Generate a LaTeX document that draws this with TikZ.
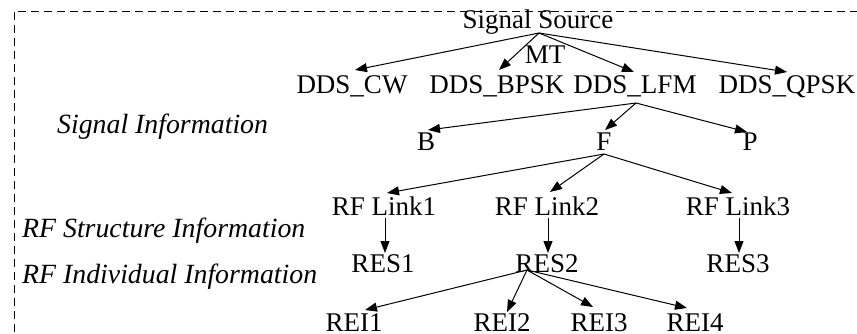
\documentclass[tikz,border=0pt]{standalone}
\usepackage{fontspec}
\setmainfont{Liberation Serif}
\usetikzlibrary{arrows.meta}

\begin{document}
\begin{tikzpicture}[x=1pt,y=-1pt,
    every node/.style={inner sep=0pt, font=\fontsize{27}{32}\selectfont},
    item/.style={anchor=base},
    level/.style={anchor=base west, font=\fontsize{27.8}{32}\selectfont\itshape},
    link/.style={line width=1pt, -{Triangle[length=12pt,width=9pt]}},
    frame/.style={line width=1pt, dash pattern=on 8pt off 5pt}]

  \useasboundingbox (0,0) rectangle (857,333);
  \clip (0,0) rectangle (857,333);

  % outer dashed frame
  \coordinate (fbl) at (14,345);
  \coordinate (ftl) at (14,11);
  \coordinate (ftr) at (875,11);
  \draw[frame] (fbl) -- (ftl) -- (ftr);

  % level captions
  \node[level] (sigi) at (57,133) {Signal Information};
  \node[level] (rfs)  at (22,237) {RF Structure Information};
  \node[level] (rfi)  at (22,283) {RF Individual Information};

  % tree nodes
  \node[item] (src)  at (538,28)  {Signal Source};
  \node[item] (mt)   at (545,63)  {MT};
  \node[item] (cw)   at (352,93)  {DDS\_CW};
  \node[item] (bpsk) at (497,93)  {DDS\_BPSK};
  \node[item] (lfm)  at (635,93)  {DDS\_LFM};
  \node[item] (qpsk) at (787,93)  {DDS\_QPSK};

  \node[item] (pb) at (426,150) {B};
  \node[item] (pf) at (604,150) {F};
  \node[item] (pp) at (750,150) {P};

  \node[item] (l1) at (384,215) {RF Link1};
  \node[item] (l2) at (547,215) {RF Link2};
  \node[item] (l3) at (738,215) {RF Link3};

  \node[item] (res1) at (383,272) {RES1};
  \node[item] (res2) at (547,272) {RES2};
  \node[item] (res3) at (738,272) {RES3};

  \node[item] (rei1) at (354,331) {REI1};
  \node[item] (rei2) at (502,331) {REI2};
  \node[item] (rei3) at (599,331) {REI3};
  \node[item] (rei4) at (695,331) {REI4};

  % source -> modulation types
  \draw[link] ([shift={(1pt,-5pt)}]src.base) -- ([shift={(3pt,23pt)}]cw.base);
  \draw[link] ([shift={(1pt,-5pt)}]src.base) -- ([shift={(2pt,23pt)}]bpsk.base);
  \draw[link] ([shift={(1pt,-5pt)}]src.base) -- ([shift={(-1pt,21pt)}]lfm.base);
  \draw[link] ([shift={(1pt,-5pt)}]src.base) -- ([shift={(0pt,21pt)}]qpsk.base);

  % LFM -> parameters
  \draw[link] ([shift={(1pt,-10pt)}]lfm.base) -- ([shift={(2pt,20pt)}]pb.base);
  \draw[link] ([shift={(1pt,-10pt)}]lfm.base) -- ([shift={(1pt,20pt)}]pf.base);
  \draw[link] ([shift={(1pt,-10pt)}]lfm.base) -- ([shift={(-3pt,18pt)}]pp.base);

  % F -> RF links
  \draw[link] ([shift={(0pt,-4pt)}]pf.base) -- ([shift={(3pt,22pt)}]l1.base);
  \draw[link] ([shift={(0pt,-4pt)}]pf.base) -- ([shift={(3pt,23pt)}]l2.base);
  \draw[link] ([shift={(0pt,-4pt)}]pf.base) -- ([shift={(-6pt,22pt)}]l3.base);

  % RF links -> structure info
  \draw[link] ([shift={(1pt,-3pt)}]l1.base) -- ([shift={(2pt,19pt)}]res1.base);
  \draw[link] ([shift={(1pt,-3pt)}]l2.base) -- ([shift={(1pt,19pt)}]res2.base);
  \draw[link] ([shift={(1pt,-3pt)}]l3.base) -- ([shift={(1pt,19pt)}]res3.base);

  % RES2 -> individual info
  \draw[link] ([shift={(-20pt,2pt)}]res2.base) -- ([shift={(11pt,21pt)}]rei1.base);
  \draw[link] ([shift={(-20pt,2pt)}]res2.base) -- ([shift={(5pt,19pt)}]rei2.base);
  \draw[link] ([shift={(-20pt,2pt)}]res2.base) -- ([shift={(-6pt,24pt)}]rei3.base);
  \draw[link] ([shift={(-20pt,2pt)}]res2.base) -- ([shift={(-8pt,23pt)}]rei4.base);
\end{tikzpicture}
\end{document}
